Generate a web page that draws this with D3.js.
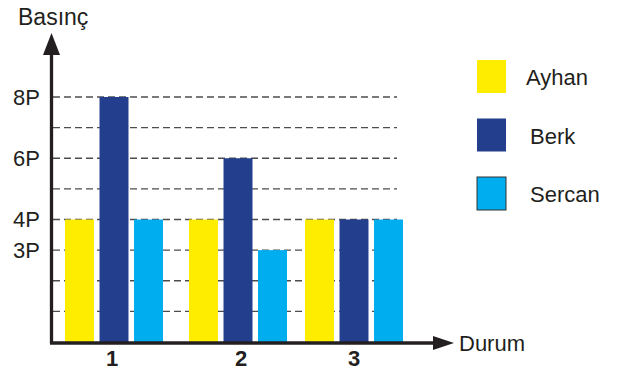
<!DOCTYPE html>
<html>
<head>
<meta charset="utf-8">
<script src="https://cdn.jsdelivr.net/npm/d3@7"></script>
<style>
  body { margin: 0; background: #fff; }
  text { font-family: "Liberation Sans", Arial, sans-serif; fill: #231f20; }
</style>
</head>
<body>
<svg width="635" height="374"></svg>
<script>
// data
var groups = ["1", "2", "3"];
var seriesNames = ["Ayhan", "Berk", "Sercan"];
var ayhan = [4, 4, 4];
var berk = [8, 6, 4];
var sercan = [4, 3, 4];
var yTickValues = [3, 4, 6, 8];
var yTickLabels = ["3P", "4P", "6P", "8P"];
var gridValues = [1, 2, 3, 4, 5, 6, 7, 8];
var colors = ["#ffed00", "#233e8c", "#00aeef"];

var seriesValues = [ayhan, berk, sercan];

var svg = d3.select("svg");
var dark = "#231f20";

var y = d3.scaleLinear().domain([0, 8]).range([342, 97]);
// group centres are not evenly spaced in the original
var x0 = d3.scaleOrdinal().domain(groups).range([114, 238, 354]);
var x1 = d3.scaleBand().domain(seriesNames).range([-49, 49]).paddingInner(0.16);

// gridlines
svg.append("g").selectAll("line")
  .data(gridValues)
  .enter().append("line")
    .attr("x1", 53).attr("x2", 397)
    .attr("y1", function(d) { return y(d); })
    .attr("y2", function(d) { return y(d); })
    .attr("stroke", "#4d4d4d")
    .attr("stroke-width", 1.3)
    .attr("stroke-dasharray", "7,4");

// bars
var rows = [];
groups.forEach(function(g, i) {
  seriesNames.forEach(function(s, j) {
    rows.push({group: g, name: s, value: seriesValues[j][i], color: colors[j]});
  });
});

svg.append("g").selectAll("rect")
  .data(rows)
  .enter().append("rect")
    .attr("x", function(d) { return x0(d.group) + x1(d.name); })
    .attr("y", function(d) { return y(d.value); })
    .attr("width", x1.bandwidth())
    .attr("height", function(d) { return y(0) - y(d.value); })
    .attr("fill", function(d) { return d.color; });

// axes with arrows
svg.append("line")
  .attr("x1", 51.5).attr("x2", 51.5)
  .attr("y1", y(0) + 1.5).attr("y2", 52)
  .attr("stroke", dark).attr("stroke-width", 3.3);
svg.append("path")
  .attr("d", "M43,55 L51.5,33 L60,55 Z")
  .attr("fill", dark);

svg.append("line")
  .attr("x1", 50).attr("x2", 436)
  .attr("y1", y(0) + 1).attr("y2", y(0) + 1)
  .attr("stroke", dark).attr("stroke-width", 3.3);
svg.append("path")
  .attr("d", "M433," + (y(0) - 6) + " L454," + (y(0) + 1) + " L433," + (y(0) + 8) + " Z")
  .attr("fill", dark);

// y tick labels
svg.append("g").selectAll("text")
  .data(yTickValues)
  .enter().append("text")
    .attr("x", 40)
    .attr("y", function(d) { return y(d); })
    .attr("dy", "0.36em")
    .attr("text-anchor", "end")
    .style("font-size", "22px")
    .text(function(d, i) { return yTickLabels[i]; });

// x tick labels (slightly off the bar centres in the original)
var labelNudge = [-2, 3, 0];
svg.append("g").selectAll("text")
  .data(groups)
  .enter().append("text")
    .attr("x", function(d, i) { return x0(d) + labelNudge[i]; })
    .attr("y", 366)
    .attr("text-anchor", "middle")
    .style("font-size", "22px")
    .style("font-weight", "bold")
    .text(function(d) { return d; });

// axis titles
svg.append("text")
  .attr("x", 18).attr("y", 25)
  .style("font-size", "23px")
  .text("Basınç");
svg.append("text")
  .attr("x", 459).attr("y", 351)
  .style("font-size", "22px")
  .text("Durum");

// legend
var legend = svg.append("g").selectAll("g")
  .data(seriesNames)
  .enter().append("g")
    .attr("transform", function(d, i) { return "translate(477," + (60 + i * 58.5) + ")"; });

legend.append("rect")
  .attr("width", 29).attr("height", 33)
  .attr("fill", function(d, i) { return colors[i]; })
  .attr("stroke", function(d, i) { return i == 2 ? "#333" : "none"; })
  .attr("stroke-width", 1);

legend.append("text")
  .attr("x", function(d, i) { return i == 0 ? 49 : 53; })
  .attr("y", 25)
  .style("font-size", "22px")
  .text(function(d) { return d; });
</script>
</body>
</html>
